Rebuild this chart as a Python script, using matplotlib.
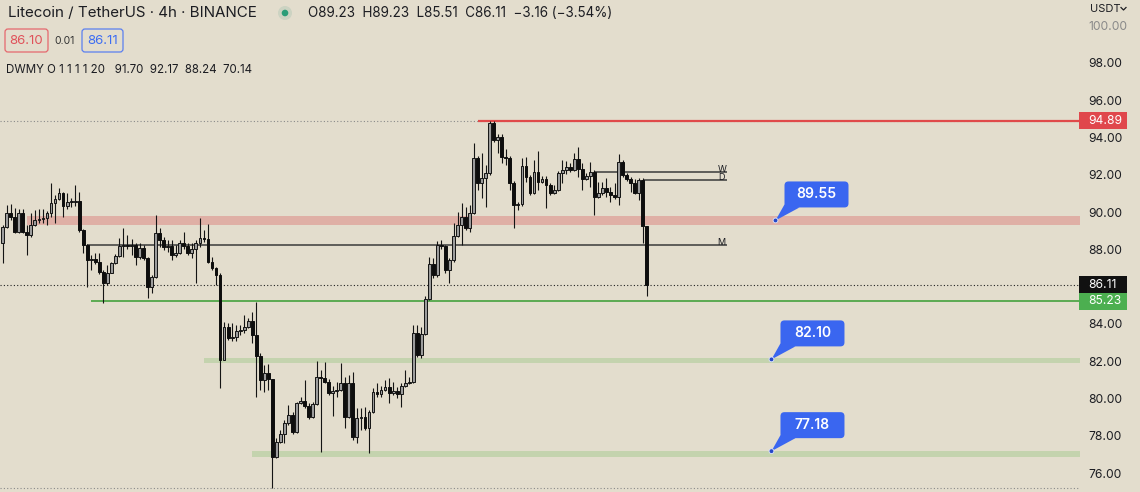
import matplotlib
matplotlib.use("Agg")
import matplotlib.pyplot as plt
import matplotlib.transforms as mtrans
from matplotlib.patches import Rectangle, FancyBboxPatch, Polygon, Circle
from matplotlib.lines import Line2D
import numpy as np

plt.rcParams['font.family'] = ['Inter', 'DejaVu Sans']

# LTC/USDT 4h candles (open = previous close)
first_open = 88.34
closes = [
    89.20, 89.95, 89.74, 88.93, 89.95, 88.93, 88.77, 89.30, 89.57, 89.62,
    89.68, 89.95, 90.49, 90.70, 91.02, 90.33, 90.54, 90.54, 90.59, 89.04,
    88.24, 87.43, 87.48, 87.32, 86.79, 86.20, 86.73, 87.27, 87.65, 88.18,
    88.24, 88.18, 88.24, 87.59, 88.07, 87.54, 85.98, 86.52, 88.88, 88.50,
    88.13, 88.18, 87.70, 87.81, 88.34, 88.18, 87.81, 88.02, 88.34, 88.61,
    88.56, 87.32, 87.00, 86.62, 82.07, 83.84, 83.25, 83.30, 83.62, 83.68,
    83.84, 84.16, 83.41, 82.28, 81.00, 81.37, 81.05, 76.87, 77.67, 78.10,
    78.69, 79.12, 78.21, 79.76, 79.87, 79.60, 79.01, 79.71, 81.16, 81.10,
    80.89, 80.30, 80.41, 80.46, 80.84, 79.01, 80.84, 77.94, 78.96, 79.01,
    78.42, 79.28, 80.35, 80.25, 80.46, 80.62, 80.30, 80.41, 80.25, 80.67,
    80.84, 80.89, 83.52, 82.33, 83.46, 85.34, 87.22, 86.62, 88.24, 88.18,
    86.89, 87.43, 88.72, 89.30, 89.74, 89.14, 89.95, 92.90, 91.56, 91.83,
    92.09, 94.77, 93.86, 94.02, 92.95, 92.90, 91.56, 90.38, 90.43, 92.47,
    91.88, 91.02, 92.15, 91.61, 91.77, 91.45, 91.02, 91.18, 92.09, 92.26,
    92.42, 92.26, 92.84, 92.31, 91.77, 91.93, 92.17, 90.81, 91.02, 91.29,
    91.07, 90.91, 90.81, 92.68, 91.99, 91.77, 91.56, 91.02, 91.70, 89.23,
    86.11,
]
highs = [
    89.30, 90.38, 90.43, 90.22, 90.17, 90.17, 89.30, 89.95, 90.11, 90.17,
    90.17, 90.06, 91.56, 90.91, 91.29, 91.07, 91.02, 90.75, 91.45, 91.07,
    89.09, 88.29, 87.70, 87.81, 87.81, 86.89, 87.16, 87.32, 87.75, 88.61,
    89.14, 88.77, 88.56, 88.34, 88.34, 88.24, 87.59, 86.62, 89.84, 89.14,
    88.66, 88.50, 88.50, 88.24, 88.50, 88.93, 88.34, 88.34, 88.50, 89.68,
    89.04, 89.36, 87.59, 87.05, 86.73, 84.11, 84.05, 84.05, 83.94, 83.94,
    84.48, 84.32, 84.64, 85.18, 82.44, 81.80, 81.85, 81.05, 77.89, 78.31,
    78.85, 79.66, 79.28, 79.82, 80.08, 81.00, 79.76, 79.82, 82.01, 81.53,
    81.96, 81.05, 80.67, 80.89, 81.91, 81.16, 81.26, 81.42, 79.50, 79.50,
    79.55, 79.39, 80.57, 80.84, 80.67, 81.00, 81.10, 80.89, 80.62, 80.84,
    81.53, 81.16, 83.94, 83.94, 83.84, 85.50, 87.59, 87.54, 88.45, 88.50,
    88.24, 87.54, 89.41, 90.00, 90.49, 90.27, 90.38, 93.70, 93.00, 93.17,
    92.52, 94.89, 94.88, 94.19, 94.19, 93.38, 93.00, 91.66, 90.54, 92.90,
    92.95, 91.99, 92.79, 93.27, 91.93, 91.93, 91.56, 91.45, 92.20, 92.79,
    92.74, 92.63, 93.17, 93.49, 92.63, 92.09, 92.68, 92.26, 91.61, 91.61,
    91.83, 91.34, 91.56, 93.11, 92.79, 92.09, 91.88, 91.77, 91.83, 91.83,
    89.23,
]
lows = [
    87.27, 89.14, 89.57, 88.88, 88.88, 88.88, 87.70, 88.66, 89.25, 89.41,
    89.41, 89.30, 89.74, 89.41, 90.65, 89.74, 90.17, 90.27, 90.33, 88.93,
    87.81, 85.98, 86.89, 87.22, 86.68, 85.12, 86.09, 86.73, 87.22, 87.59,
    87.59, 88.02, 87.70, 87.16, 87.48, 87.43, 85.39, 85.66, 86.46, 88.13,
    87.97, 87.86, 87.43, 87.59, 87.75, 88.02, 87.70, 87.54, 86.20, 88.13,
    88.39, 87.27, 86.89, 86.09, 80.57, 82.07, 83.14, 83.09, 83.09, 83.41,
    83.52, 83.78, 82.98, 80.08, 80.46, 80.35, 80.46, 75.20, 76.81, 77.62,
    77.62, 78.58, 78.10, 78.15, 79.71, 79.50, 78.90, 78.96, 79.66, 77.13,
    80.84, 80.19, 79.07, 80.08, 80.41, 78.42, 78.96, 77.78, 77.62, 78.31,
    78.31, 77.08, 79.23, 80.08, 80.08, 80.41, 79.76, 80.19, 80.03, 79.55,
    80.62, 80.78, 80.84, 82.23, 82.17, 83.41, 85.28, 86.46, 86.52, 88.02,
    86.73, 86.20, 87.32, 88.66, 88.24, 89.04, 88.93, 89.90, 91.18, 90.75,
    90.27, 91.99, 93.76, 93.17, 92.63, 92.52, 91.18, 89.14, 90.11, 90.33,
    91.61, 90.91, 90.97, 91.18, 91.56, 90.22, 90.91, 90.97, 91.13, 91.56,
    92.04, 92.15, 92.20, 91.88, 91.18, 91.72, 91.34, 89.84, 90.75, 90.91,
    90.81, 90.54, 90.70, 90.38, 91.88, 91.66, 91.07, 90.97, 90.65, 88.34,
    85.51,
]

# drawn levels: (low, high, first candle index)
resist_zone = (89.33, 89.81, 6)
support_zones = [(81.90, 82.15, 50), (76.87, 77.20, 62)]
support_line = (85.23, 22)
# daily / weekly / monthly opens: (name, price, first candle index)
period_opens = [("M", 88.24, 21), ("W", 92.17, 147), ("D", 91.70, 159)]
callouts = [(192, 89.55, "89.55"), (191, 82.10, "82.10"), (191, 77.18, "77.18")]
yticks = [76, 78, 80, 82, 84, 88, 90, 92, 94, 96, 98, 100]

BG = "#e3ddcd"
TXT = "#1c1d22"
BLUE = "#3a66f0"
W, H = 1140, 492

opens = [first_open] + closes[:-1]
o = np.array(opens)
c = np.array(closes)
hi = np.array(highs)
lo = np.array(lows)
idx = np.arange(len(c))

fig = plt.figure(figsize=(W / 100, H / 100), dpi=100)
fig.patch.set_facecolor(BG)
ax = fig.add_axes([0, 0, 1080 / W, 1])
ax.set_facecolor(BG)
for s in ax.spines.values():
    s.set_visible(False)

# candle spacing in pixels -> x limits
step, first_px = 4.025, 2.7
x0 = -first_px / step
x1 = (1080 - first_px) / step
ax.set_xlim(x0, x1)
ax.set_ylim(74.99, 101.37)
ax.set_xticks([])


def px_at(x, y):
    # pixel-sized shapes anchored at a data point
    return (mtrans.Affine2D().scale(1 / fig.dpi) + fig.dpi_scale_trans
            + mtrans.ScaledTranslation(x, y, ax.transData))


px = mtrans.Affine2D().scale(1 / W, -1 / H).translate(0, 1) + fig.transFigure

# zones and level lines
ax.fill_between([resist_zone[2], x1], resist_zone[0], resist_zone[1],
                color="#dfafa5", lw=0, zorder=1)
for zlo, zhi, start in support_zones:
    ax.fill_between([start, x1], zlo, zhi, color="#c4d3ae", lw=0, zorder=1)
ax.hlines(support_line[0], support_line[1], x1, color="#5caa52", lw=1.4, zorder=2)

top, bottom = hi.max(), lo.min()
ax.hlines(top, x0, x1, color="#8a8a8a", lw=0.8, ls=(0, (1, 2)), zorder=1.5)
ax.hlines(bottom, x0, x1, color="#8a8a8a", lw=0.8, ls=(0, (1, 2)), zorder=1.5)
ax.hlines(c[-1], x0, x1, color="#222222", lw=0.8, ls=(0, (1, 2)), zorder=1.5)
ax.hlines(top, int(np.argmax(hi)) - 3, x1, color="#e04a4a", lw=1.6, zorder=2)

x_end = (727 - first_px) / step
for name, price, start in period_opens:
    ax.hlines(price, start, x_end, color="#3a3a3a", lw=1.1, zorder=2)
    ax.text(x_end - 1.3, price, name, fontsize=6.5, color=TXT, ha="center",
            va="baseline", zorder=6)

# candles
up = c >= o
ax.vlines(idx, lo, hi, color="#141414", lw=0.8, zorder=3)
body_lo = np.minimum(o, c)
body_h = np.maximum(np.abs(c - o), 0.05)
ax.bar(idx[up], body_h[up], bottom=body_lo[up], width=0.7, color="#9c9c9c",
       edgecolor="#141414", linewidth=0.7, zorder=4)
ax.bar(idx[~up], body_h[~up], bottom=body_lo[~up], width=0.7, color="#0e0e0e",
       edgecolor="#0e0e0e", linewidth=0.7, zorder=4)

# callouts
for xi, price, label in callouts:
    t = px_at(xi, price)
    bx, by, bw, bh = 9, 13, 64, 26
    ax.add_patch(Polygon([(0, 0), (bx, by + 3), (bx + 15, by)], closed=True,
                         transform=t, fc=BLUE, ec="none", zorder=8, clip_on=False))
    ax.add_patch(FancyBboxPatch((bx, by), bw, bh, boxstyle="round,pad=0,rounding_size=4",
                                transform=t, fc=BLUE, ec="none", zorder=8, clip_on=False))
    ax.add_patch(Circle((0, 0), 2.4, transform=t, fc="#2548c8", ec="#dfe6ff",
                        lw=0.6, zorder=9, clip_on=False))
    ax.text(bx + bw / 2, by + bh / 2, label, transform=t, color="white",
            ha="center", va="center", fontsize=10, fontweight="semibold", zorder=10)

# right price scale
ax.yaxis.tick_right()
ax.set_yticks(yticks)
ax.set_yticklabels(["%.2f" % v for v in yticks])
ax.tick_params(axis="y", length=0, pad=6, labelsize=8.7, labelcolor=TXT)
ax.get_yticklabels()[-1].set_color("#8a8a8a")

for price, col in [(top, "#e0474c"), (c[-1], "#111111"), (support_line[0], "#4caf50")]:
    t = px_at(x1, price)
    ax.add_patch(Rectangle((-1, -8.5), 48, 17, transform=t, fc=col, ec="none",
                           zorder=11, clip_on=False))
    ax.text(8, 0, "%.2f" % price, transform=t, color="white", fontsize=8.7,
            ha="left", va="center", zorder=12, clip_on=False)

fig.text(1090, 9, "USDT", transform=px, fontsize=8, color=TXT, va="center", ha="left")
fig.add_artist(Line2D([1121, 1123.5, 1126], [7.5, 10, 7.5], transform=px,
                      color=TXT, lw=0.9))

# header
fig.text(8, 13, "Litecoin / TetherUS · 4h · BINANCE", transform=px, fontsize=10.9,
         color=TXT, va="center", ha="left")
fig.add_artist(Circle((285, 13), 7, transform=px, fc="#ccd3c2", ec="none"))
fig.add_artist(Circle((285, 13), 3.3, transform=px, fc="#2a9d78", ec="none"))
fig.text(308, 13, "O89.23  H89.23  L85.51  C86.11  −3.16 (−3.54%)", transform=px,
         fontsize=9.7, color=TXT, va="center", ha="left")

fig.add_artist(FancyBboxPatch((5, 29), 43, 23, boxstyle="round,pad=0,rounding_size=3",
                              transform=px, fc="none", ec="#e5686e", lw=0.9))
fig.text(26.5, 41, "86.10", transform=px, fontsize=9.5, color="#e0525a",
         va="center", ha="center")
fig.text(64.5, 41, "0.01", transform=px, fontsize=7.5, color="#333333",
         va="center", ha="center")
fig.add_artist(FancyBboxPatch((82, 29), 41, 23, boxstyle="round,pad=0,rounding_size=3",
                              transform=px, fc="none", ec="#5b7ff0", lw=0.9))
fig.text(102.5, 41, "86.11", transform=px, fontsize=9.5, color="#3d6df2",
         va="center", ha="center")
fig.text(6, 70, "DWMY O 1 1 1 1 20   91.70  92.17  88.24  70.14", transform=px,
         fontsize=8.3, color=TXT, va="center", ha="left")

fig.savefig("out.png", dpi=100, facecolor=BG)
